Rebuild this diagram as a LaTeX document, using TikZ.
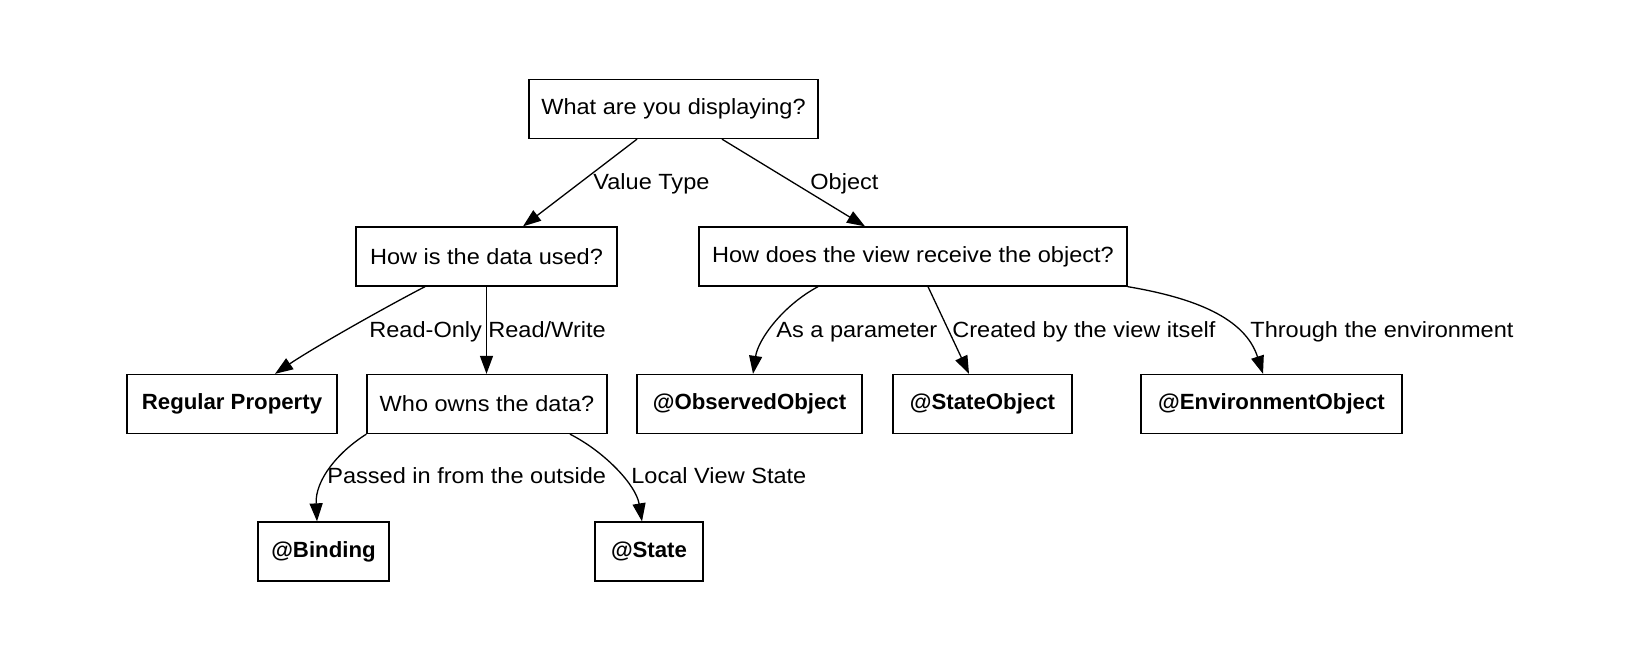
\documentclass[tikz,border=0pt]{standalone}
\usepackage{fontspec}
\setmainfont{Liberation Sans}[UprightFeatures={FakeStretch=1.07},BoldFeatures={FakeStretch=1.01}]
\usetikzlibrary{arrows.meta,calc}
\begin{document}
\begin{tikzpicture}[x=0.5pt,y=-0.5pt,
  box/.style={draw,line width=0.65pt,rectangle,inner sep=0pt,minimum height=29.5pt,font=\fontsize{11}{13}\selectfont},
  bbox/.style={box,font=\fontsize{11}{13}\selectfont\bfseries},
  lab/.style={anchor=base west,inner sep=0pt,font=\fontsize{11}{13}\selectfont},
  arr/.style={line width=0.65pt,-{Triangle[length=9pt,width=6.5pt]}}]
\useasboundingbox (0,0) rectangle (1648,644);
% nodes
\node[box,minimum width=144.5pt] (q1) at (673.5,109) {What are you displaying?};
\node[box,minimum width=130.5pt] (q2) at (486.5,256.5) {How is the data used?};
\node[box,minimum width=214pt] (q3) at (913,256.5) {How does the view receive the object?};
\node[bbox,minimum width=105pt] (reg) at (232,404) {Regular Property};
\node[box,minimum width=120pt] (who) at (487,404) {Who owns the data?};
\node[bbox,minimum width=112.5pt] (obs) at (749.5,404) {@ObservedObject};
\node[bbox,minimum width=89.5pt] (sto) at (982.5,404) {@StateObject};
\node[bbox,minimum width=130.5pt] (env) at (1271.5,404) {@EnvironmentObject};
\node[bbox,minimum width=65.5pt] (bind) at (323.5,551.5) {@Binding};
\node[bbox,minimum width=54pt] (state) at (649,551.5) {@State};
% labels
\node[lab] (l1) at (593,189) {Value Type};
\node[lab] (l2) at (810,189) {Object};
\node[lab] (l3) at (369,337) {Read-Only};
\node[lab] (l4) at (488,337) {Read/Write};
\node[lab] (l5) at (776,337) {As a parameter};
\node[lab] (l6) at (952,337) {Created by the view itself};
\node[lab] (l7) at (1250,337) {Through the environment};
\node[lab] (l8) at (327,483) {Passed in from the outside};
\node[lab] (l9) at (631,483) {Local View State};
% edges
\draw[arr] ($(q1.south)+(-36.5,0)$) -- ($(q2.north)+(36.5,0)$);
\draw[arr] ($(q1.south)+(48.5,0)$) -- ($(q3.north)+(-48,0)$);
\draw[arr] ($(q2.south)+(-61.5,0)$) .. controls (380,310) and (310,350) .. ($(reg.north)+(43,0)$);
\draw[arr] (q2.south) -- (q2.south |- who.north);
\draw[arr] ($(q3.south)+(-95,0)$) .. controls (782,306) and (758,340) .. ($(obs.north)+(3.5,0)$);
\draw[arr] ($(q3.south)+(15,0)$) -- ($(sto.north)+(-13.5,0)$);
\draw[arr] (q3.south east) .. controls (1195,298) and (1245,318) .. ($(env.north)+(-8.5,0)$);
\draw[arr] (who.south west) .. controls (338,452) and (315,480) .. ($(bind.north)+(-6.5,0)$);
\draw[arr] ($(who.south)+(83,0)$) .. controls (605,452) and (636,485) .. ($(state.north)+(-7,0)$);
\end{tikzpicture}
\end{document}
